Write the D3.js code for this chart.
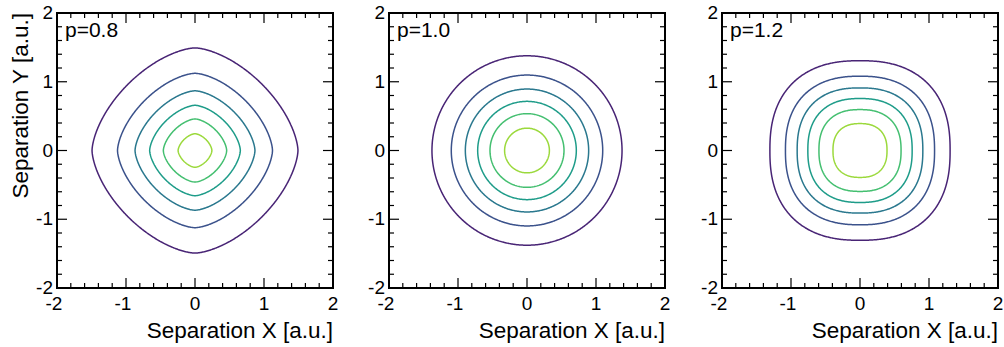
<!DOCTYPE html>
<html>
<head>
<meta charset="utf-8">
<script src="https://cdn.jsdelivr.net/npm/d3@7"></script>
<style>
  body { margin: 0; background: #fff; }
  svg { font-family: "Liberation Sans", Arial, sans-serif; }
</style>
</head>
<body>
<svg id="plot" width="1004" height="347"></svg>
<script>
// Panel data
const panelLabels = ["p=0.8", "p=1.0", "p=1.2"];
const shapeP = [0.8, 1.0, 1.2];
// contour levels of exp(-(|x|^2p + |y|^2p))
const levels = [0.15, 0.3, 0.45, 0.6, 0.75, 0.9];
const levelColorPos = [0.1, 0.25, 0.4, 0.55, 0.7, 0.85];
const tickValues = [-2, -1, 0, 1, 2];
const domain = [-2, 2];

const panelLeft = [57, 389, 722];
const panelTop = 13;
const panelW = 276;
const panelH = 275;

let svg = d3.select('#plot');

// grid for contouring
const n = 321;
const step = (domain[1] - domain[0]) / (n - 1);

panelLabels.forEach(function(label, k) {
    let g = svg.append('g')
        .attr('transform', `translate(${panelLeft[k]}, ${panelTop})`);

    let xScale = d3.scaleLinear().domain(domain).range([0, panelW]);
    let yScale = d3.scaleLinear().domain(domain).range([panelH, 0]);

    // field values on grid
    let q = 2 * shapeP[k];
    let values = new Array(n * n);
    for (let j = 0; j < n; j++) {
        for (let i = 0; i < n; i++) {
            let x = domain[0] + i * step;
            let y = domain[0] + j * step;
            values[j * n + i] = Math.exp(-(Math.pow(Math.abs(x), q) + Math.pow(Math.abs(y), q)));
        }
    }

    let contours = d3.contours().size([n, n]).thresholds(levels)(values);

    let transform = d3.geoTransform({
        point: function(u, v) {
            this.stream.point(
                xScale(domain[0] + (u - 0.5) * step),
                yScale(domain[0] + (v - 0.5) * step));
        }
    });
    let path = d3.geoPath(transform);

    g.selectAll('.contour')
        .data(contours)
        .enter()
        .append('path')
        .attr('class', 'contour')
        .attr('d', path)
        .attr('fill', 'none')
        .attr('stroke', (d, i) => d3.interpolateViridis(levelColorPos[i]))
        .attr('stroke-width', 1.5);

    // ticks on all four sides, pointing inwards
    let minor = d3.range(-2, 2.0001, 0.2).map(v => +v.toFixed(1));
    let tickLen = v => (Math.abs(v - Math.round(v)) < 1e-6 ? 10 : 5);

    let axisTicks = g.append('g').attr('stroke', '#000').attr('stroke-width', 1.2);
    minor.forEach(function(v) {
        let L = tickLen(v);
        axisTicks.append('line')
            .attr('x1', xScale(v)).attr('x2', xScale(v))
            .attr('y1', panelH).attr('y2', panelH - L);
        axisTicks.append('line')
            .attr('x1', xScale(v)).attr('x2', xScale(v))
            .attr('y1', 0).attr('y2', L);
        axisTicks.append('line')
            .attr('y1', yScale(v)).attr('y2', yScale(v))
            .attr('x1', 0).attr('x2', L);
        axisTicks.append('line')
            .attr('y1', yScale(v)).attr('y2', yScale(v))
            .attr('x1', panelW).attr('x2', panelW - L);
    });

    // frame
    g.append('rect')
        .attr('width', panelW)
        .attr('height', panelH)
        .attr('fill', 'none')
        .attr('stroke', '#000')
        .attr('stroke-width', 2);

    // tick labels
    g.selectAll('.xlab')
        .data(tickValues)
        .enter()
        .append('text')
        .attr('x', d => xScale(d) - (d < 0 ? 3 : 0))
        .attr('y', panelH + 22)
        .attr('text-anchor', 'middle')
        .attr('font-size', 19)
        .text(d => d);

    g.selectAll('.ylab')
        .data(tickValues)
        .enter()
        .append('text')
        .attr('x', -4)
        .attr('y', d => yScale(d) + 6)
        .attr('text-anchor', 'end')
        .attr('font-size', 19)
        .text(d => d);

    // panel label
    g.append('text')
        .attr('x', 8)
        .attr('y', 24)
        .attr('font-size', 21)
        .text(label);

    // x axis title
    g.append('text')
        .attr('x', panelW)
        .attr('y', panelH + 50)
        .attr('text-anchor', 'end')
        .attr('font-size', 22.5)
        .text('Separation X [a.u.]');

    if (k === 0) {
        g.append('text')
            .attr('transform', 'rotate(-90)')
            .attr('x', 0)
            .attr('y', -29)
            .attr('text-anchor', 'end')
            .attr('font-size', 22.5)
            .text('Separation Y [a.u.]');
    }
});
</script>
</body>
</html>
